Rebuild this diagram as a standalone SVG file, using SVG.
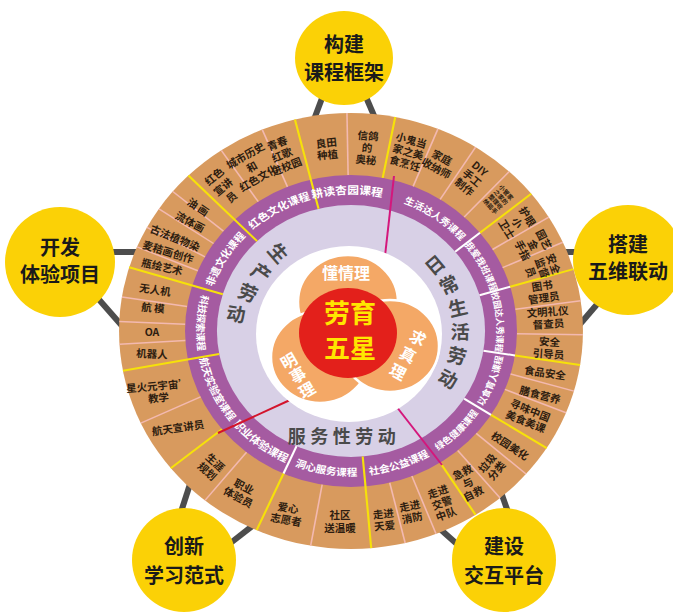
<svg xmlns="http://www.w3.org/2000/svg" width="673" height="612" viewBox="0 0 673 612">
<style>
.f{font-family:"Noto Sans CJK SC","Noto Sans",sans-serif;font-weight:700}
.o{font-size:10.5px;fill:#2e1d10;text-anchor:middle}
.p{fill:#fff;text-anchor:middle}
.big{font-size:19px;fill:#4a4a4a;text-anchor:middle}
.yt{font-size:20px;fill:#1a1a1a;text-anchor:middle}
.yl{stroke:#f6e10a;stroke-width:2}
.pk{stroke:#f3b9b0;stroke-width:1.5}
.wl{stroke:#ffffff;stroke-width:2}
.leg{stroke:#4d4d4d;stroke-width:6;stroke-linecap:butt}
.yc{fill:#fbd106}
</style>
<defs>
<path id="pA" d="M -33.1,-132.9 A 137 137 0 0 1 26.1,-134.5"/>
<path id="pB" d="M 35.5,-132.3 A 137 137 0 0 1 112.2,-78.6"/>
<path id="pC" d="M 106.5,-86.2 A 137 137 0 0 1 131.4,-38.9"/>
<path id="pD" d="M 131.4,-38.9 A 137 137 0 0 1 135.3,21.4"/>
<path id="pE" d="M 122.3,77.9 A 145 145 0 0 0 143.2,22.7"/>
<path id="pF" d="M 77.9,122.3 A 145 145 0 0 0 122.3,77.9"/>
<path id="pG" d="M 12.6,144.4 A 145 145 0 0 0 77.9,122.3"/>
<path id="pH" d="M -59.0,132.5 A 145 145 0 0 0 12.6,144.4"/>
<path id="pI" d="M -112.7,91.3 A 145 145 0 0 0 -59.0,132.5"/>
<path id="pJ" d="M -142.6,26.4 A 145 145 0 0 0 -112.7,91.3"/>
<path id="pK" d="M -138.7,-42.4 A 145 145 0 0 0 -142.6,26.4"/>
<path id="pL" d="M -131.0,-40.1 A 137 137 0 0 1 -96.0,-97.7"/>
<path id="pM" d="M -96.0,-97.7 A 137 137 0 0 1 -33.1,-132.9"/>
</defs>
<rect width="673" height="612" fill="#ffffff"/>

<g id="connectors">
<line class="leg" x1="325" y1="90" x2="312" y2="125"/>
<line class="leg" x1="363" y1="90" x2="378" y2="125"/>
<line class="leg" x1="100" y1="252" x2="140" y2="252"/>
<line class="leg" x1="95" y1="295" x2="130" y2="335"/>
<line class="leg" x1="560" y1="252" x2="590" y2="252"/>
<line class="leg" x1="605" y1="295" x2="575" y2="330"/>
<line class="leg" x1="180" y1="515" x2="192" y2="478"/>
<line class="leg" x1="228" y1="545" x2="260" y2="520"/>
<line class="leg" x1="458" y1="545" x2="430" y2="520"/>
<line class="leg" x1="508" y1="512" x2="496" y2="478"/>
</g>

<g id="ring" transform="translate(351,331) scale(1.064,1)">
<circle r="218" fill="#d89a5e"/>
<circle r="156" fill="#a55ba1"/>
<circle r="126" fill="#d8d0e6"/>
<line class="yl" x1="-30.5" y1="-122.3" x2="-52.7" y2="-211.5"/>
<line class="yl" x1="29.8" y1="-153.1" x2="41.6" y2="-214.0"/>
<line class="yl" x1="121.2" y1="-98.2" x2="169.4" y2="-137.2"/>
<line class="yl" x1="149.6" y1="-44.3" x2="209.0" y2="-61.9"/>
<line class="yl" x1="154.1" y1="24.4" x2="215.3" y2="34.1"/>
<line class="yl" x1="131.6" y1="83.8" x2="183.9" y2="117.1"/>
<line class="yl" x1="83.8" y1="131.6" x2="117.1" y2="183.9"/>
<line class="yl" x1="11.0" y1="125.5" x2="19.0" y2="217.2"/>
<line class="yl" x1="-63.4" y1="142.5" x2="-88.7" y2="199.2"/>
<line class="yl" x1="-121.2" y1="98.2" x2="-169.4" y2="137.2"/>
<line class="yl" x1="-123.9" y1="23.0" x2="-214.4" y2="39.7"/>
<line class="yl" x1="-120.5" y1="-36.8" x2="-208.5" y2="-63.7"/>
<line class="yl" x1="-88.3" y1="-89.9" x2="-152.8" y2="-155.5"/>
<line class="wl" x1="97.9" y1="-79.3" x2="121.2" y2="-98.2"/>
<line class="wl" x1="120.8" y1="-35.8" x2="149.6" y2="-44.3"/>
<line class="wl" x1="124.5" y1="19.7" x2="154.1" y2="24.4"/>
<line class="wl" x1="106.3" y1="67.7" x2="131.6" y2="83.8"/>
<line class="wl" x1="-51.2" y1="115.1" x2="-63.4" y2="142.5"/>
<line class="pk" x1="-2.7" y1="-156.0" x2="-3.8" y2="-218.0"/>
<line class="pk" x1="-87.2" y1="-129.3" x2="-121.9" y2="-180.7"/>
<line class="pk" x1="-59.7" y1="-144.1" x2="-83.4" y2="-201.4"/>
<line class="pk" x1="58.4" y1="-144.6" x2="81.7" y2="-202.1"/>
<line class="pk" x1="83.8" y1="-131.6" x2="117.1" y2="-183.9"/>
<line class="pk" x1="106.4" y1="-114.1" x2="148.7" y2="-159.4"/>
<line class="pk" x1="133.0" y1="-81.5" x2="185.9" y2="-113.9"/>
<line class="pk" x1="142.5" y1="-63.4" x2="199.1" y2="-88.7"/>
<line class="pk" x1="154.5" y1="-21.7" x2="215.9" y2="-30.3"/>
<line class="pk" x1="156.0" y1="2.7" x2="218.0" y2="3.8"/>
<line class="pk" x1="150.0" y1="43.0" x2="209.6" y2="60.1"/>
<line class="pk" x1="144.6" y1="58.4" x2="202.1" y2="81.7"/>
<line class="pk" x1="117.7" y1="102.4" x2="164.5" y2="143.0"/>
<line class="pk" x1="100.3" y1="119.5" x2="140.1" y2="167.0"/>
<line class="pk" x1="57.2" y1="145.1" x2="79.9" y2="202.8"/>
<line class="pk" x1="36.4" y1="151.7" x2="50.9" y2="212.0"/>
<line class="pk" x1="-27.1" y1="153.6" x2="-37.9" y2="214.7"/>
<line class="pk" x1="-98.2" y1="121.2" x2="-137.2" y2="169.4"/>
<line class="pk" x1="-141.4" y1="65.9" x2="-197.6" y2="92.1"/>
<line class="pk" x1="-155.7" y1="9.5" x2="-217.6" y2="13.3"/>
<line class="pk" x1="-155.9" y1="-6.8" x2="-217.8" y2="-9.5"/>
<line class="pk" x1="-154.1" y1="-24.4" x2="-215.3" y2="-34.1"/>
<line class="pk" x1="-143.9" y1="-60.2" x2="-201.1" y2="-84.1"/>
<line class="pk" x1="-137.2" y1="-74.2" x2="-191.8" y2="-103.7"/>
<line class="pk" x1="-129.2" y1="-87.5" x2="-180.5" y2="-122.2"/>
<line class="pk" x1="-119.9" y1="-99.9" x2="-167.5" y2="-139.5"/>
<text class="f p" font-size="11"><textPath href="#pA" startOffset="50%">耕读杏园课程</textPath></text>
<text class="f p" font-size="9.5"><textPath href="#pB" startOffset="50%">生活达人秀课程</textPath></text>
<text class="f p" font-size="9"><textPath href="#pC" startOffset="50%">我爱我班课程</textPath></text>
<text class="f p" font-size="8.5"><textPath href="#pD" startOffset="50%">校园达人秀课程</textPath></text>
<text class="f p" font-size="9"><textPath href="#pE" startOffset="50%">以食育人课程</textPath></text>
<text class="f p" font-size="9"><textPath href="#pF" startOffset="50%">绿色健康课程</textPath></text>
<text class="f p" font-size="10"><textPath href="#pG" startOffset="50%">社会公益课程</textPath></text>
<text class="f p" font-size="10"><textPath href="#pH" startOffset="50%">洞心服务课程</textPath></text>
<text class="f p" font-size="10.5"><textPath href="#pI" startOffset="50%">职业体验课程</textPath></text>
<text class="f p" font-size="10"><textPath href="#pJ" startOffset="50%">航天实验室课程</textPath></text>
<text class="f p" font-size="9.5"><textPath href="#pK" startOffset="50%">科技探索课程</textPath></text>
<text class="f p" font-size="10"><textPath href="#pL" startOffset="50%">非遗文化课程</textPath></text>
<text class="f p" font-size="10.5"><textPath href="#pM" startOffset="50%">红色文化课程</textPath></text>
</g>

<g id="separators">
<line x1="394" y1="176" x2="385" y2="256" stroke="#d4177c" stroke-width="2"/>
<line x1="396" y1="406" x2="442" y2="465" stroke="#d4177c" stroke-width="2"/>
<line x1="290" y1="400" x2="218" y2="433" stroke="#d3142c" stroke-width="2"/>
</g>

<g id="core">
<ellipse cx="349" cy="334" rx="93" ry="88" fill="#ffffff"/>
<ellipse cx="348" cy="302" rx="50" ry="47" fill="#f4a866" stroke="#fff" stroke-width="2.5"/>
<ellipse cx="320" cy="357" rx="49" ry="46" fill="#f4a866" stroke="#fff" stroke-width="2.5"/>
<ellipse cx="390" cy="346" rx="49" ry="46" fill="#f4a866" stroke="#fff" stroke-width="2.5"/>
<ellipse cx="348" cy="333" rx="49" ry="45" fill="#e3201b"/>
<text class="f" x="350" y="323" font-size="26" fill="#ffe600" text-anchor="middle">劳育</text>
<text class="f" x="350" y="358" font-size="26" fill="#ffe600" text-anchor="middle">五星</text>
<text class="f" x="346" y="279" font-size="16" fill="#ffffff" text-anchor="middle">懂情理</text>
<g class="f" font-size="16" fill="#ffffff" text-anchor="middle">
<text transform="translate(289,361) rotate(-30)" y="6">明</text>
<text transform="translate(298,375) rotate(-30)" y="6">事</text>
<text transform="translate(307,390) rotate(-30)" y="6">理</text>
<text transform="translate(418,338) rotate(28)" y="6">求</text>
<text transform="translate(408,355) rotate(28)" y="6">真</text>
<text transform="translate(398,372) rotate(28)" y="6">理</text>
</g>
</g>

<g id="sectors" class="f big">
<text transform="translate(278,253) rotate(49)" y="7">生</text>
<text transform="translate(261,273) rotate(35)" y="7">产</text>
<text transform="translate(248,293) rotate(22)" y="7">劳</text>
<text transform="translate(236,314) rotate(9)" y="7">动</text>
<text transform="translate(435,265) rotate(-40)" y="7">日</text>
<text transform="translate(449,285) rotate(-26)" y="7">常</text>
<text transform="translate(458,308) rotate(-13)" y="7">生</text>
<text transform="translate(460,332) rotate(1)" y="7">活</text>
<text transform="translate(457,356) rotate(14)" y="7">劳</text>
<text transform="translate(448,379) rotate(28)" y="7">动</text>
<text x="344" y="443" font-size="18" letter-spacing="4.5">服务性劳动</text>
</g>

<g id="items" class="f o">
<text transform="translate(223,187) rotate(-40)"><tspan x="0" y="-9.7">红色</tspan><tspan x="0" y="3.8">宣讲</tspan><tspan x="0" y="17.3">员</tspan></text>
<text transform="translate(252,167) rotate(-30)"><tspan x="0" y="-9.2">城市历史</tspan><tspan x="0" y="3.8">和</tspan><tspan x="0" y="16.8">红色文化</tspan></text>
<text transform="translate(282,155) rotate(-22)"><tspan x="0" y="-8.7">青春</tspan><tspan x="0" y="3.8">红歌</tspan><tspan x="0" y="16.3">进校园</tspan></text>
<text transform="translate(327,149) rotate(-6)"><tspan x="0" y="-2.2">良田</tspan><tspan x="0" y="9.8">种植</tspan></text>
<text transform="translate(367,148) rotate(5)"><tspan x="0" y="-8.2">信鸽</tspan><tspan x="0" y="3.8">的</tspan><tspan x="0" y="15.8">奥秘</tspan></text>
<text transform="translate(408,152) rotate(16)"><tspan x="0" y="-8.2">小鬼当</tspan><tspan x="0" y="3.8">家之美</tspan><tspan x="0" y="15.8">食烹饪</tspan></text>
<text transform="translate(439,163) rotate(28)"><tspan x="0" y="-2.2">家庭</tspan><tspan x="0" y="9.8">收纳师</tspan></text>
<text transform="translate(472,178) rotate(40)"><tspan x="0" y="-8.2">DIY</tspan><tspan x="0" y="3.8">手工</tspan><tspan x="0" y="15.8">制作</tspan></text>
<text transform="translate(500,198) rotate(48)" font-size="6"><tspan x="0" y="-6">小管家</tspan><tspan x="0" y="1">之家的</tspan><tspan x="0" y="8">整理收</tspan><tspan x="0" y="15">纳能手</tspan></text>
<text transform="translate(517,223) rotate(58)"><tspan x="0" y="-8.2">护眼</tspan><tspan x="0" y="3.8">小</tspan><tspan x="0" y="15.8">卫士</tspan></text>
<text transform="translate(533,245) rotate(63)"><tspan x="0" y="-8.2">园艺</tspan><tspan x="0" y="3.8">金</tspan><tspan x="0" y="15.8">手指</tspan></text>
<text transform="translate(542,268) rotate(70)"><tspan x="0" y="-8.2">安全</tspan><tspan x="0" y="3.8">监督</tspan><tspan x="0" y="15.8">员</tspan></text>
<text transform="translate(543,292) rotate(-8)"><tspan x="0" y="-2.2">图书</tspan><tspan x="0" y="9.8">管理员</tspan></text>
<text transform="translate(548,318) rotate(-4)"><tspan x="0" y="-2.2">文明礼仪</tspan><tspan x="0" y="9.8">督查员</tspan></text>
<text transform="translate(549,348) rotate(4)"><tspan x="0" y="-2.2">安全</tspan><tspan x="0" y="9.8">引导员</tspan></text>
<text transform="translate(545,373) rotate(8)" y="3.8">食品安全</text>
<text transform="translate(540,395) rotate(14)" y="3.8">膳食营养</text>
<text transform="translate(528,416) rotate(22)"><tspan x="0" y="-2.2">寻味中国</tspan><tspan x="0" y="9.8">美食美课</tspan></text>
<text transform="translate(510,446) rotate(33)" y="3.8">校园美化</text>
<text transform="translate(492,467) rotate(-50)"><tspan x="0" y="-2.2">垃圾</tspan><tspan x="0" y="9.8">分类</tspan></text>
<text transform="translate(468,483) rotate(-27)"><tspan x="0" y="-8.2">急救</tspan><tspan x="0" y="3.8">与</tspan><tspan x="0" y="15.8">自救</tspan></text>
<text transform="translate(442,503) rotate(-20)"><tspan x="0" y="-8.2">走进</tspan><tspan x="0" y="3.8">交警</tspan><tspan x="0" y="15.8">中队</tspan></text>
<text transform="translate(411,512) rotate(-12)"><tspan x="0" y="-2.2">走进</tspan><tspan x="0" y="9.8">消防</tspan></text>
<text transform="translate(384,520) rotate(-6)"><tspan x="0" y="-2.2">走进</tspan><tspan x="0" y="9.8">天爱</tspan></text>
<text transform="translate(340,522)"><tspan x="0" y="-3">社区</tspan><tspan x="0" y="10">送温暖</tspan></text>
<text transform="translate(287,514) rotate(10)"><tspan x="0" y="-2.2">爱心</tspan><tspan x="0" y="9.8">志愿者</tspan></text>
<text transform="translate(241,492) rotate(28)"><tspan x="0" y="-2.2">职业</tspan><tspan x="0" y="9.8">体验员</tspan></text>
<text transform="translate(211,467) rotate(42)"><tspan x="0" y="-2.2">生涯</tspan><tspan x="0" y="9.8">规划</tspan></text>
<text transform="translate(178,428) rotate(-8)" y="3.8">航天宣讲员</text>
<text transform="translate(158,392) rotate(-5)"><tspan x="0" y="-2.2">星火元宇宙’</tspan><tspan x="0" y="9.8">教学</tspan></text>
<text transform="translate(152,354) rotate(3)" y="3.8">机器人</text>
<text transform="translate(152,332)" y="3.8">OA</text>
<text transform="translate(153,308) rotate(5)" y="3.8">航 模</text>
<text transform="translate(155,290) rotate(8)" y="3.8">无人机</text>
<text transform="translate(162,267) rotate(13)" y="3.8">瓶绘艺术</text>
<text transform="translate(168,252) rotate(17)" y="3.8">麦秸画创作</text>
<text transform="translate(175,238) rotate(22)" y="3.8">古法植物染</text>
<text transform="translate(190,222) rotate(28)" y="3.8">流体画</text>
<text transform="translate(198,207) rotate(34)" y="3.8">油 画</text>
</g>

<g id="node-top">
<ellipse class="yc" cx="344" cy="58" rx="49" ry="47"/>
<text class="f yt" x="344" y="52">构建</text>
<text class="f yt" x="344" y="80">课程框架</text>
</g>
<g id="node-left">
<circle class="yc" cx="60" cy="262" r="55"/>
<text class="f yt" x="60" y="255">开发</text>
<text class="f yt" x="60" y="282">体验项目</text>
</g>
<g id="node-right">
<circle class="yc" cx="628" cy="260" r="55"/>
<text class="f yt" x="628" y="252">搭建</text>
<text class="f yt" x="628" y="279">五维联动</text>
</g>
<g id="node-bottom-left">
<circle class="yc" cx="184" cy="560" r="52"/>
<text class="f yt" x="184" y="554">创新</text>
<text class="f yt" x="184" y="583">学习范式</text>
</g>
<g id="node-bottom-right">
<circle class="yc" cx="504" cy="560" r="52"/>
<text class="f yt" x="504" y="554">建设</text>
<text class="f yt" x="504" y="583">交互平台</text>
</g>
</svg>
